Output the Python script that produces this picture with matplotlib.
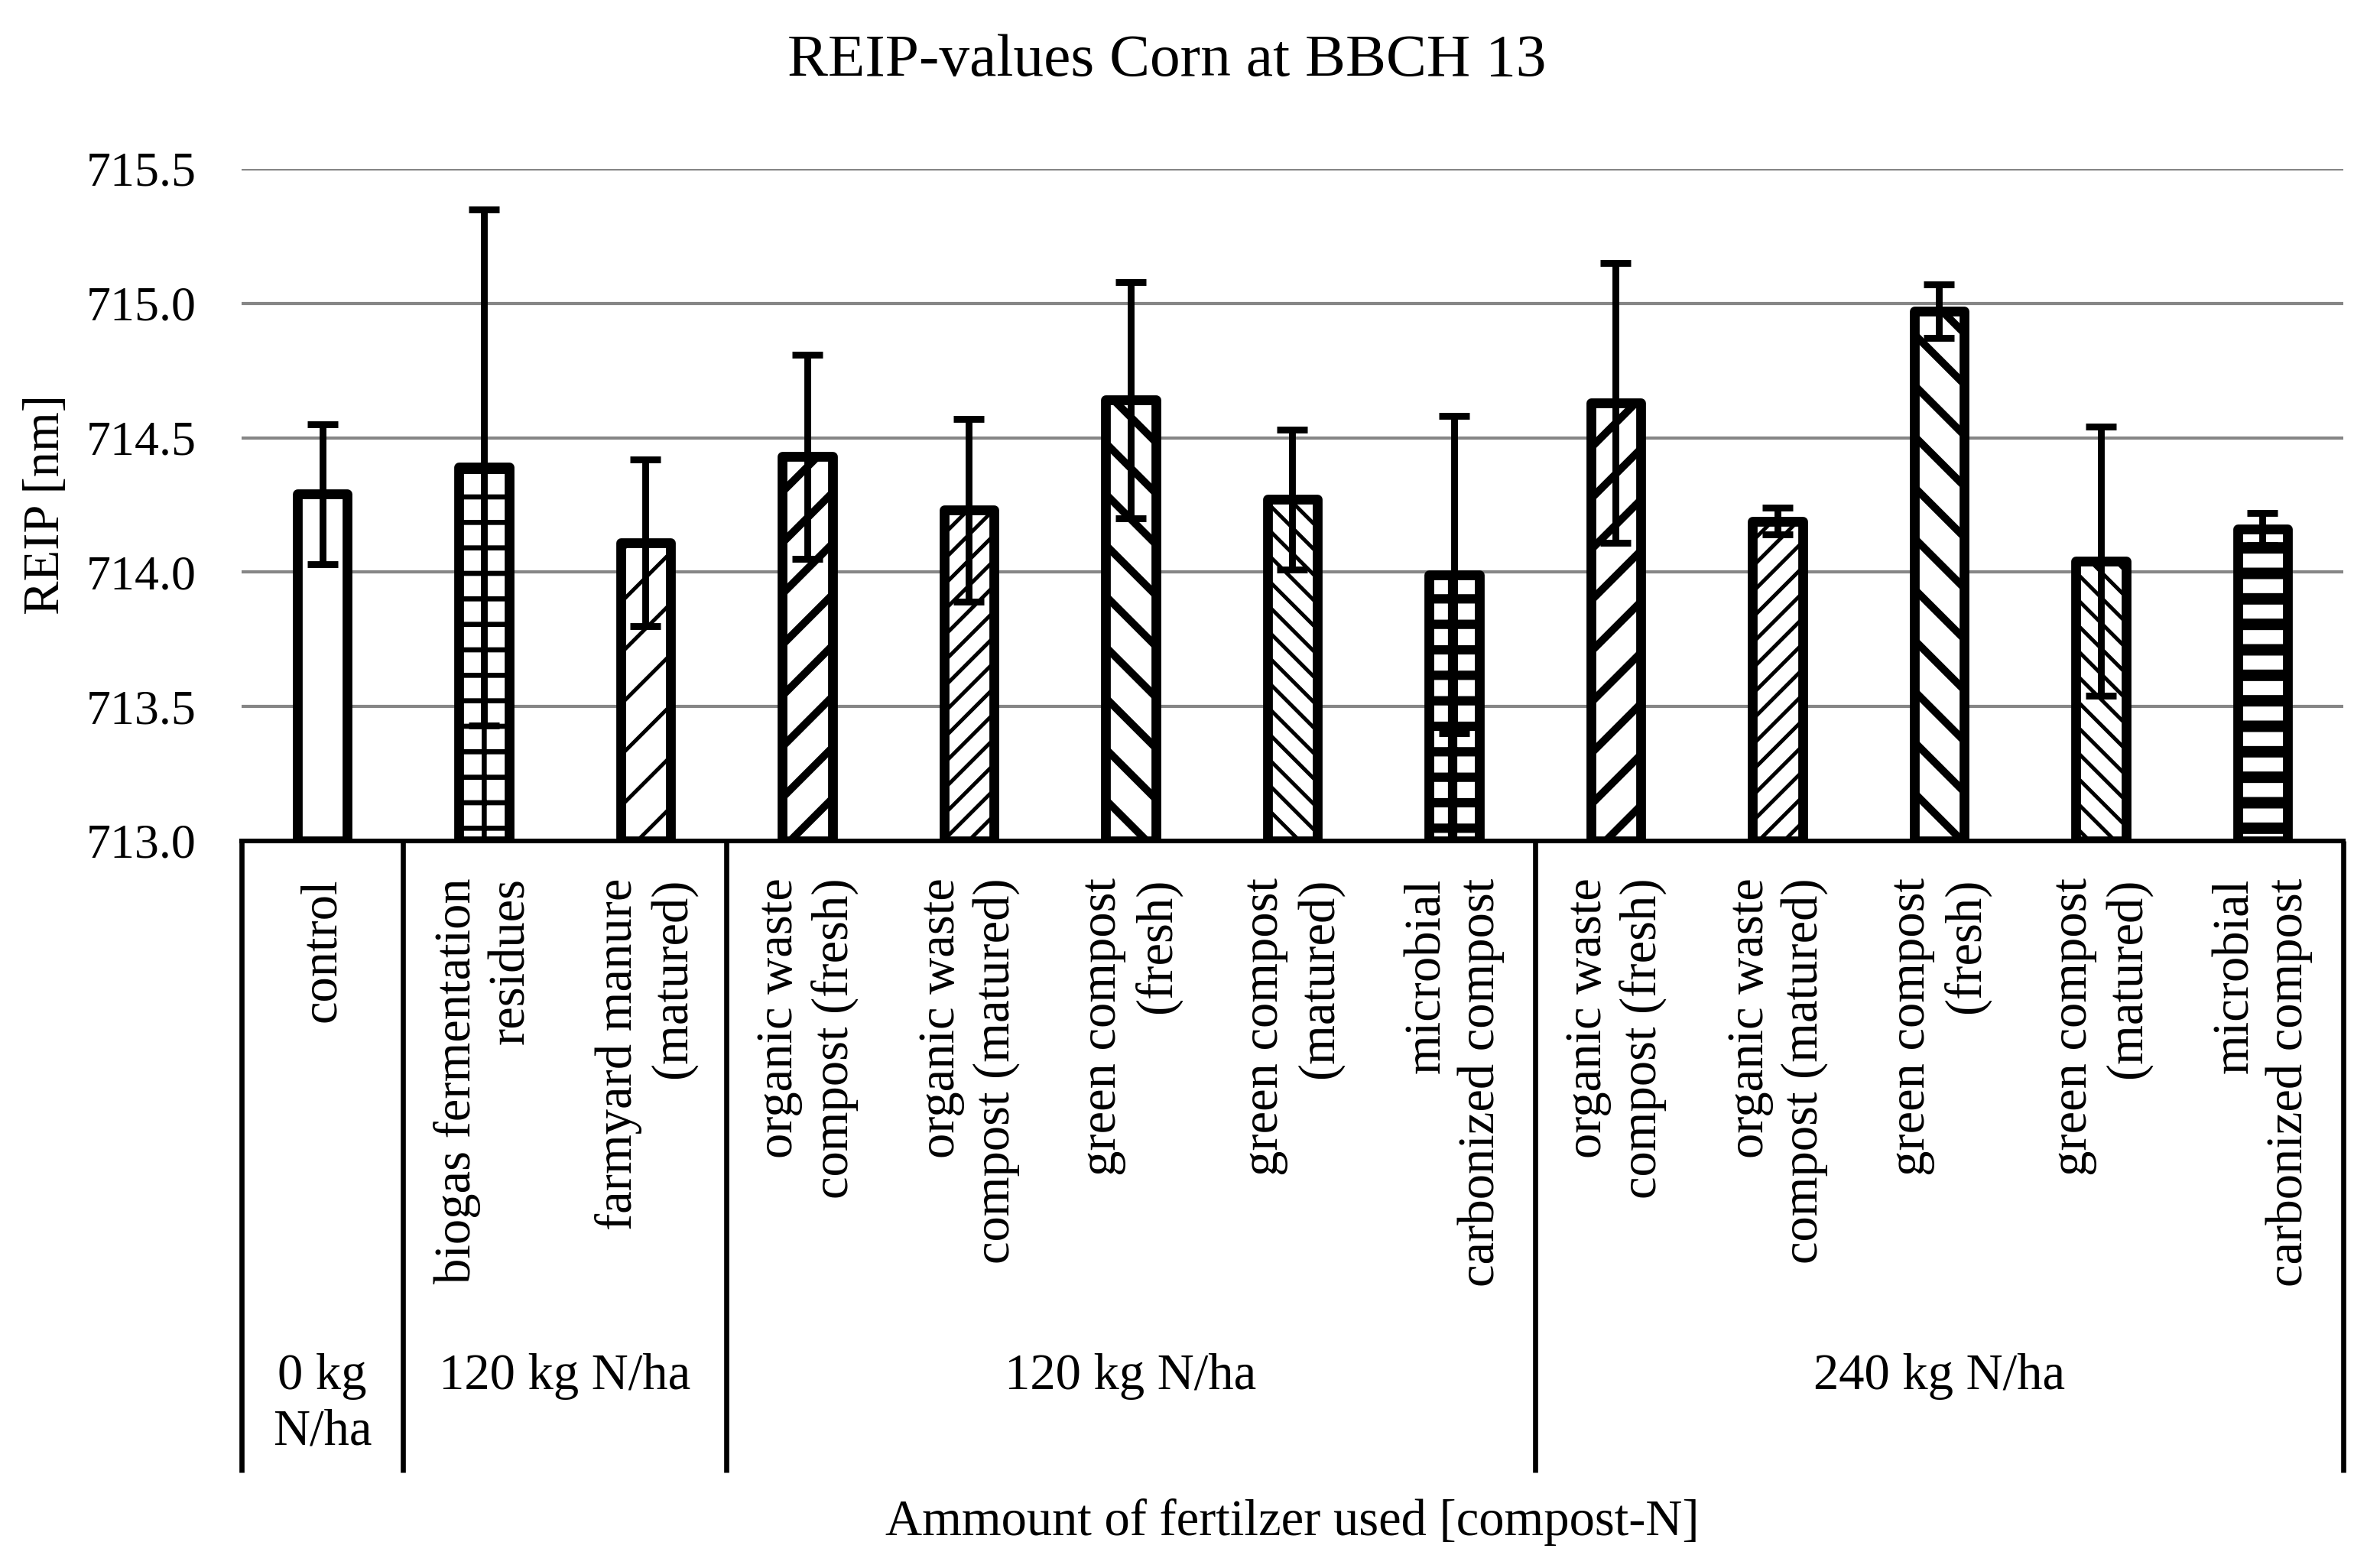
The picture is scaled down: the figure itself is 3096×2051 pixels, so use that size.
import matplotlib
matplotlib.use("Agg")
import matplotlib.pyplot as plt

# REIP values for corn at BBCH 13
categories = [
    "control",
    "biogas fermentation\nresidues",
    "farmyard manure\n(matured)",
    "organic waste\ncompost (fresh)",
    "organic waste\ncompost (matured)",
    "green compost\n(fresh)",
    "green compost\n(matured)",
    "microbial\ncarbonized compost",
    "organic waste\ncompost (fresh)",
    "organic waste\ncompost (matured)",
    "green compost\n(fresh)",
    "green compost\n(matured)",
    "microbial\ncarbonized compost",
]
reip = [714.29, 714.39, 714.11, 714.43, 714.23, 714.64, 714.27, 713.99,
        714.63, 714.19, 714.97, 714.04, 714.16]
reip_err = [0.26, 0.96, 0.31, 0.38, 0.34, 0.44, 0.26, 0.59,
            0.52, 0.05, 0.10, 0.50, 0.06]

group_labels = ["0 kg\nN/ha", "120 kg N/ha", "120 kg N/ha", "240 kg N/ha"]
group_sizes = [1, 2, 5, 5]

hatches = ["", "+-", "//", "//", "////", "\\\\", "\\\\\\\\", "+-",
           "//", "////", "\\\\", "\\\\\\\\", "--"]
hatch_lw = [1.0, 1.2, 0.9, 1.8, 0.9, 1.8, 0.9, 2.2,
            1.8, 0.9, 1.8, 0.9, 2.7]

yticks = [713.0, 713.5, 714.0, 714.5, 715.0, 715.5]

plt.rcParams["font.family"] = ["Liberation Serif", "DejaVu Serif"]
plt.rcParams["hatch.color"] = "black"

fig = plt.figure(figsize=(7.74, 5.1275), dpi=400)
ax = fig.add_axes([0.102, 0.4637, 0.888, 0.4286])

x = list(range(len(categories)))
bars = ax.bar(x, [v - 713.0 for v in reip], bottom=713.0, width=0.31,
              color="white", edgecolor="black", linewidth=2.3,
              joinstyle="round", zorder=2)
for b, h, lw in zip(bars, hatches, hatch_lw):
    b.set_hatch(h)
    try:
        b.set_hatch_linewidth(lw)
    except AttributeError:
        pass

ax.errorbar(x, reip, yerr=reip_err, fmt="none", ecolor="black",
            elinewidth=1.6, capsize=3.6, capthick=1.6, zorder=3)

ax.set_xlim(-0.5, len(categories) - 0.5)
ax.set_ylim(713.0, 715.5)
ax.set_yticks(yticks)
ax.set_yticklabels([f"{t:.1f}" for t in yticks])
ax.tick_params(axis="y", length=0, pad=10.6, labelsize=11.5)
ax.set_xticks([])
ax.yaxis.grid(True, color="#868686", linewidth=0.75, zorder=0)
ax.set_axisbelow(True)
for s in ["left", "right", "top"]:
    ax.spines[s].set_visible(False)
ax.spines["bottom"].set_linewidth(1.1)
ax.spines["bottom"].set_zorder(4)

tr = ax.get_xaxis_transform()
for xi, lab in zip(x, categories):
    ax.text(xi, -0.055, lab, transform=tr, rotation=90, ha="center",
            va="top", multialignment="right", fontsize=12)

# group separators and labels
bounds = [-0.5]
for n in group_sizes:
    bounds.append(bounds[-1] + n)
for bx in bounds:
    ax.plot([bx, bx], [0, -0.94], transform=tr, color="black",
            linewidth=1.2, clip_on=False, solid_capstyle="butt")
for i, lab in enumerate(group_labels):
    cx = (bounds[i] + bounds[i + 1]) / 2
    ax.text(cx, -0.762, lab, transform=tr, ha="center", va="top",
            multialignment="center", fontsize=12, linespacing=1.25)

ax.text(0.5, -1.014, "Ammount of fertilzer used [compost-N]",
        transform=ax.transAxes, ha="center", va="center", fontsize=12)
ax.set_ylabel("REIP [nm]", fontsize=12, labelpad=4)
fig.text(0.493, 0.961, "REIP-values Corn at BBCH 13", ha="center",
         va="center", fontsize=14.3)

fig.savefig("out.png", dpi=400, facecolor="white")
